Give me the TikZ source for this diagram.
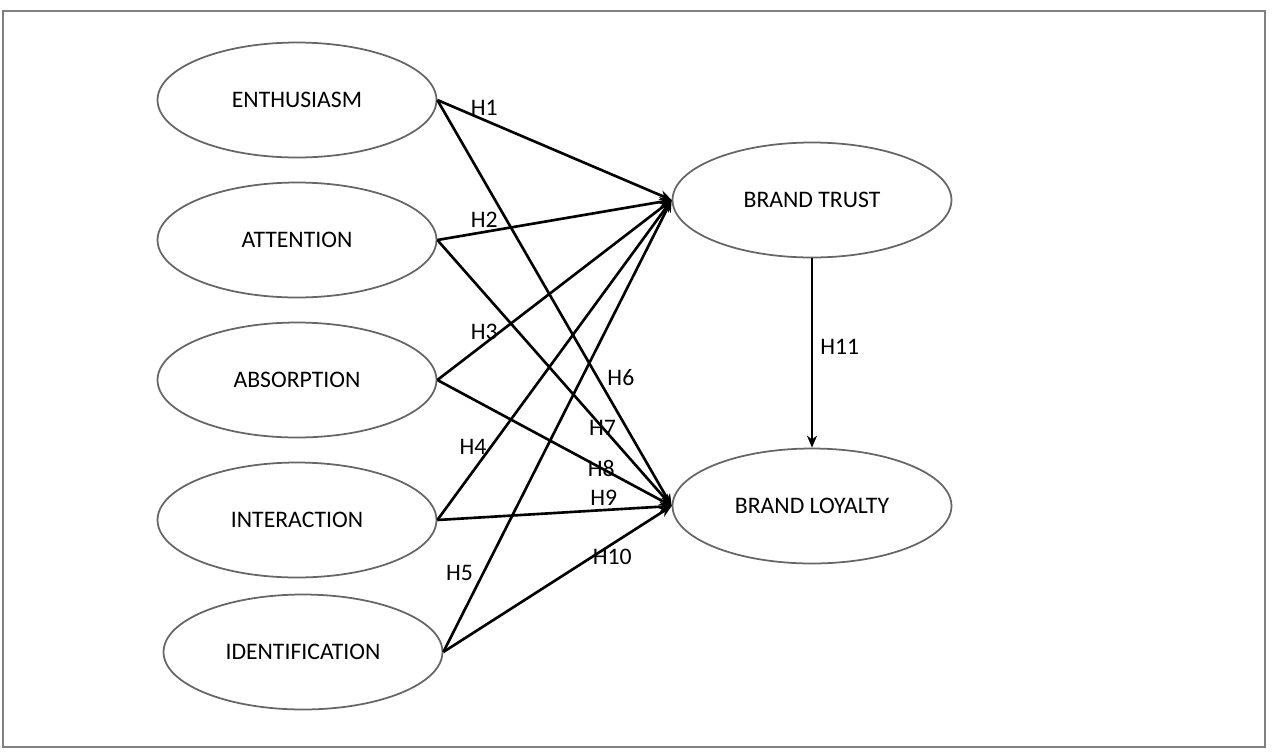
\documentclass[tikz,border=0pt]{standalone}
\usepackage{fontspec}
\setmainfont{Carlito}
\usetikzlibrary{positioning, arrows.meta, shapes.geometric}

\begin{document}
\begin{tikzpicture}[
    x=0.02cm, y=-0.02cm,
    construct/.style={ellipse, draw=black!60, line width=1pt, minimum width=5.58cm, minimum height=2.3cm, inner sep=0pt, font=\fontsize{13.5}{15}\selectfont},
    arrow/.style={-{Stealth[length=2.4mm, width=2mm]}, line width=1.5pt},
    hlabel/.style={font=\fontsize{13.5}{15}\selectfont, inner sep=2pt},
]

% Canvas and frame
\useasboundingbox (0,0) rectangle (1285,751);
\draw[black!50, line width=1.2pt] (3,11) rectangle (1265,747);

% Engagement dimensions
\node[construct] (enth) at (297,100) {ENTHUSIASM};
\node[construct] (atte) at (297,240) {ATTENTION};
\node[construct] (abso) at (297,380) {ABSORPTION};
\node[construct] (inte) at (297,520) {INTERACTION};
\node[construct] (iden) at (303,652) {IDENTIFICATION};

% Outcomes
\node[construct] (trust) at (812,200) {BRAND TRUST};
\node[construct] (loyal) at (812,506) {BRAND LOYALTY};

%% === Arrows ===

% Dimensions to brand trust
\draw[arrow] (enth.east) -- node[hlabel, pos=0.2, above] {H1} (trust.west);
\draw[arrow] (atte.east) -- node[hlabel, pos=0.2, above] {H2} (trust.west);
\draw[arrow] (abso.east) -- node[hlabel, pos=0.2, above] {H3} (trust.west);
\draw[arrow] (inte.east) -- node[hlabel, pos=0.23, left] {H4} (trust.west);
\draw[arrow] (iden.east) -- node[hlabel, pos=0.174, left=3pt] {H5} (trust.west);

% Dimensions to brand loyalty
\draw[arrow] (enth.east) -- node[hlabel, pos=0.683, right=3pt] {H6} (loyal.west);
\draw[arrow] (atte.east) -- node[hlabel, pos=0.705] {H7} (loyal.west);
\draw[arrow] (abso.east) -- node[hlabel, pos=0.7] {H8} (loyal.west);
\draw[arrow] (inte.east) -- node[hlabel, pos=0.71, above] {H9} (loyal.west);
\draw[arrow] (iden.east) -- node[hlabel, pos=0.74, below] {H10} (loyal.west);

% Trust to loyalty
\draw[arrow] (trust.south) -- node[hlabel, pos=0.47, right=2pt] {H11} (loyal.north);

\end{tikzpicture}
\end{document}
